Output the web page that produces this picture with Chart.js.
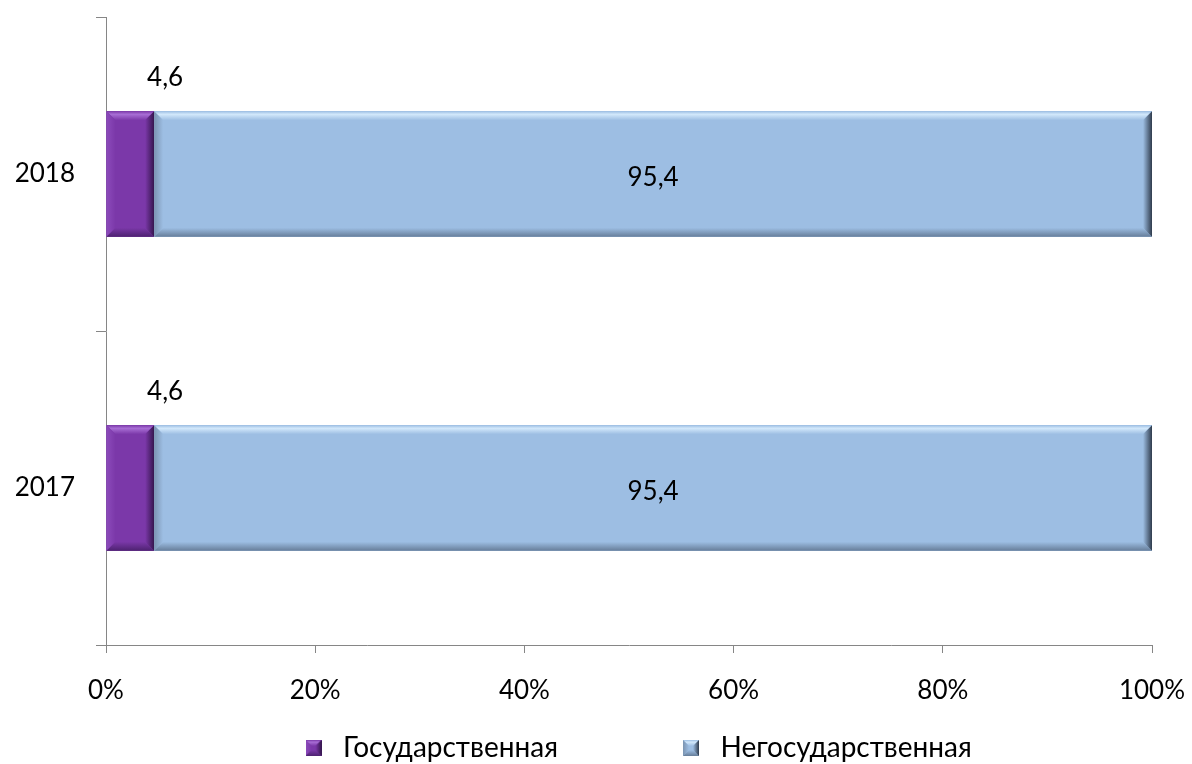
<!DOCTYPE html>
<html>
<head>
<meta charset="utf-8">
<script src="https://cdn.jsdelivr.net/npm/chart.js@4.4.1/dist/chart.umd.min.js"></script>
<style>
    html, body { margin: 0; background: #fff; }
    #wrap { width: 1192px; height: 764px; }
</style>
</head>
<body>
<div id="wrap"><canvas id="chart-share"></canvas></div>
<script>
// share of organisations by ownership, %
const years = ['2018', '2017'];
const stateShare = [4.6, 4.6];
const privateShare = [95.4, 95.4];
const seriesNames = ['Государственная', 'Негосударственная'];
const xTicks = [0, 20, 40, 60, 80, 100];

const FONT = 'Lato, "Open Sans", sans-serif';
const AXIS = '#868686';

const palettes = [
    { face: '#7b38a9', top: '#a86ed5', left: '#8c4bbb', bottom: '#4d2270', right: '#35164d' },
    { face: '#9dbee3', top: '#d2e8fb', left: '#7b94b1', bottom: '#667d99', right: '#2f3b4c' },
];

function poly(ctx, pts, fill) {
    ctx.beginPath();
    ctx.moveTo(pts[0], pts[1]);
    for (let i = 2; i < pts.length; i += 2) ctx.lineTo(pts[i], pts[i + 1]);
    ctx.closePath();
    ctx.fillStyle = fill;
    ctx.fill();
}

function bevel(ctx, l, t, r, b, d, pal) {
    poly(ctx, [l, t, r, t, r, b, l, b], pal.face);
    const gt = ctx.createLinearGradient(0, t, 0, t + d);
    gt.addColorStop(0, pal.face);
    gt.addColorStop(0.35, pal.top);
    gt.addColorStop(1, pal.face);
    poly(ctx, [l, t, r, t, r - d, t + d, l + d, t + d], gt);
    const gl = ctx.createLinearGradient(l, 0, l + d, 0);
    gl.addColorStop(0, pal.left);
    gl.addColorStop(1, pal.face);
    poly(ctx, [l, t, l + d, t + d, l + d, b - d, l, b], gl);
    const gb = ctx.createLinearGradient(0, b - d, 0, b);
    gb.addColorStop(0, pal.face);
    gb.addColorStop(1, pal.bottom);
    poly(ctx, [l, b, l + d, b - d, r - d, b - d, r, b], gb);
    const gr = ctx.createLinearGradient(r - d, 0, r, 0);
    gr.addColorStop(0, pal.face);
    gr.addColorStop(1, pal.right);
    poly(ctx, [r, t, r, b, r - d, b - d, r - d, t + d], gr);
}

function marker(pal) {
    const c = document.createElement('canvas');
    c.width = 16;
    c.height = 16;
    bevel(c.getContext('2d'), 0, 0, 16, 16, 6, pal);
    return c;
}

const bevelPlugin = {
    id: 'bevel',
    afterDatasetsDraw(chart) {
        const ctx = chart.ctx;
        chart.data.datasets.forEach((ds, i) => {
            chart.getDatasetMeta(i).data.forEach(bar => {
                const p = bar.getProps(['x', 'y', 'base', 'height'], true);
                const l = Math.min(p.base, p.x), r = Math.max(p.base, p.x);
                bevel(ctx, l, p.y - p.height / 2, r, p.y + p.height / 2, 9, palettes[i]);
            });
        });
    },
};

// value labels: first series sits above its bar, second in the middle
const valueLabels = {
    id: 'valueLabels',
    afterDatasetsDraw(chart) {
        const ctx = chart.ctx;
        ctx.save();
        ctx.font = '26px ' + FONT;
        ctx.fillStyle = '#000';
        ctx.textAlign = 'center';
        ctx.textBaseline = 'middle';
        chart.data.datasets.forEach((ds, i) => {
            chart.getDatasetMeta(i).data.forEach((bar, j) => {
                const p = bar.getProps(['x', 'y', 'base', 'height'], true);
                const txt = String(ds.data[j]).replace('.', ',');
                if (i === 0) ctx.fillText(txt, p.x + 11, p.y - p.height / 2 - 34);
                else ctx.fillText(txt, (p.x + p.base) / 2, p.y + 4);
            });
        });
        ctx.restore();
    },
};

// move the legend row to where the original has it
const legendShift = {
    id: 'legendShift',
    afterLayout(chart) {
        const lg = chart.legend;
        const pad = lg.options.labels.padding;
        const start = (lg.left + pad + lg.right - lg.lineWidths[0]) / 2;
        const dx = 298 - start;
        lg.left += dx;
        lg.right += dx;
        lg.top += 8;
        lg.bottom += 8;
    },
};

new Chart(document.getElementById('chart-share'), {
    type: 'bar',
    data: {
        labels: years,
        datasets: [
            { label: seriesNames[0], data: stateShare, backgroundColor: palettes[0].face },
            { label: seriesNames[1], data: privateShare, backgroundColor: palettes[1].face },
        ],
    },
    options: {
        indexAxis: 'y',
        responsive: true,
        maintainAspectRatio: false,
        animation: false,
        barPercentage: 0.4,
        categoryPercentage: 1,
        layout: { padding: { top: 17, right: 40, left: 0, bottom: 0 } },
        plugins: {
            tooltip: { enabled: false },
            legend: {
                position: 'bottom',
                labels: {
                    usePointStyle: true,
                    pointStyleWidth: 31,
                    padding: 10,
                    color: '#000',
                    font: { family: FONT, size: 28 },
                    generateLabels(chart) {
                        return chart.data.datasets.map((ds, i) => ({
                            text: i === 0 ? ds.label + '\u00a0'.repeat(15) : ds.label,
                            pointStyle: marker(palettes[i]),
                            fillStyle: palettes[i].face,
                            strokeStyle: palettes[i].face,
                            lineWidth: 0,
                            datasetIndex: i,
                        }));
                    },
                },
            },
        },
        scales: {
            x: {
                stacked: true,
                min: 0,
                max: 100,
                afterBuildTicks(scale) {
                    scale.ticks = xTicks.map(v => ({ value: v }));
                },
                afterFit(scale) {
                    scale.height = 71;
                    scale.paddingLeft = 0;
                    scale.paddingRight = 0;
                },
                border: { display: true, color: AXIS },
                grid: { drawOnChartArea: false, color: AXIS, tickLength: 8 },
                ticks: {
                    color: '#000',
                    padding: 22,
                    maxRotation: 0,
                    font: { family: FONT, size: 26 },
                    callback: v => v + '%',
                },
            },
            y: {
                stacked: true,
                afterFit(scale) {
                    scale.width = 106;
                    scale.paddingTop = 0;
                    scale.paddingBottom = 0;
                },
                border: { display: true, color: AXIS },
                grid: { drawOnChartArea: false, color: AXIS, tickLength: 10, offset: true },
                ticks: {
                    color: '#000',
                    padding: 21,
                    font: { family: FONT, size: 26 },
                },
            },
        },
    },
    plugins: [bevelPlugin, valueLabels, legendShift],
});
</script>
</body>
</html>
